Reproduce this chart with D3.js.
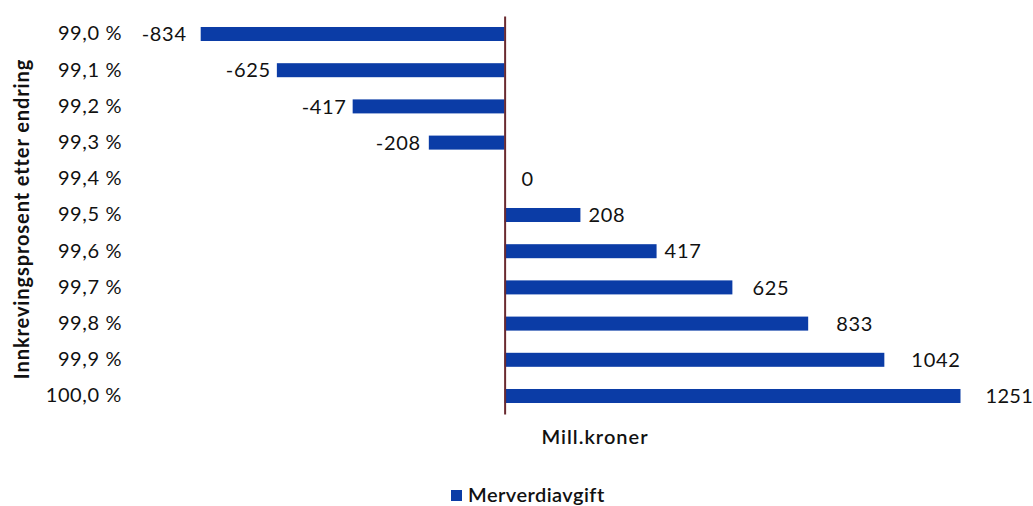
<!DOCTYPE html>
<html>
<head>
<meta charset="utf-8">
<script src="https://cdn.jsdelivr.net/npm/d3@7"></script>
<style>
  html, body { margin: 0; padding: 0; background: #fff; }
  svg { display: block; }
  text { font-family: Lato, "Open Sans", sans-serif; fill: #111; }
</style>
</head>
<body>
<svg id="chart" width="1033" height="506"></svg>
<script>
// Innkrevingsprosent (collection rate) after change
const categories = ["99,0 %", "99,1 %", "99,2 %", "99,3 %", "99,4 %", "99,5 %",
                    "99,6 %", "99,7 %", "99,8 %", "99,9 %", "100,0 %"];
// Merverdiavgift, mill. kroner
const values = [-834, -625, -417, -208, 0, 208, 417, 625, 833, 1042, 1251];
const seriesName = "Merverdiavgift";
const xTitle = "Mill.kroner";
const yTitle = "Innkrevingsprosent etter endring";

const svg = d3.select("#chart");
const barColor = "#0b3ca6";
const fs = 20;

const x = d3.scaleLinear().domain([-834, 1251]).range([200.7, 960.5]);
const y = d3.scaleBand().domain(categories).range([15.9, 414.1]).paddingInner(0.613).paddingOuter(0.3065);

// bars
svg.append("g").selectAll("rect").data(values).join("rect")
  .attr("x", d => x(Math.min(0, d)))
  .attr("width", d => Math.abs(x(d) - x(0)))
  .attr("y", (d, i) => y(categories[i]))
  .attr("height", y.bandwidth())
  .attr("fill", barColor);

// value labels; a few sit further out from the bar end
const labelGap = [14, 6, 6, 8, 17, 8, 8, 20, 28, 27, 25];
svg.append("g").selectAll("text").data(values).join("text")
  .attr("x", (d, i) => d < 0 ? x(d) - labelGap[i] : x(d) + labelGap[i])
  .attr("y", (d, i) => y(categories[i]) + y.bandwidth() / 2)
  .attr("dy", "0.36em")
  .attr("text-anchor", d => d < 0 ? "end" : "start")
  .attr("font-size", fs)
  .attr("letter-spacing", (d, i) => i === values.length - 1 ? 0.3 : 0.7)
  .text(d => d);

// category axis at zero
const axis = svg.append("g").attr("transform", `translate(${x(0)},0)`)
  .call(d3.axisLeft(y).tickSize(0).tickPadding(0));
axis.select(".domain").attr("stroke", "#6a2a30").attr("stroke-width", 2);
axis.selectAll(".tick text")
  .attr("x", 122 - x(0))
  .attr("text-anchor", "end")
  .attr("font-size", fs)
  .attr("letter-spacing", 0.6)
  .attr("font-family", "Lato, sans-serif")
  .attr("fill", "#111");

// axis titles
svg.append("text")
  .attr("transform", "translate(29,219) rotate(-90)")
  .attr("text-anchor", "middle")
  .attr("font-size", fs)
  .attr("font-weight", 700)
  .attr("letter-spacing", 0.9)
  .text(yTitle);

svg.append("text")
  .attr("x", 595).attr("y", 437)
  .attr("dy", "0.36em")
  .attr("text-anchor", "middle")
  .attr("font-size", fs)
  .attr("font-weight", 600)
  .attr("letter-spacing", 1)
  .text(xTitle);

// legend
const legend = svg.append("g").attr("transform", "translate(451,495)");
legend.append("rect").attr("x", 0).attr("y", -5).attr("width", 11).attr("height", 11).attr("fill", barColor);
legend.append("text").attr("x", 17).attr("y", 0).attr("dy", "0.36em")
  .attr("font-size", fs).attr("font-weight", 600).attr("letter-spacing", 0.45).text(seriesName);
</script>
</body>
</html>
